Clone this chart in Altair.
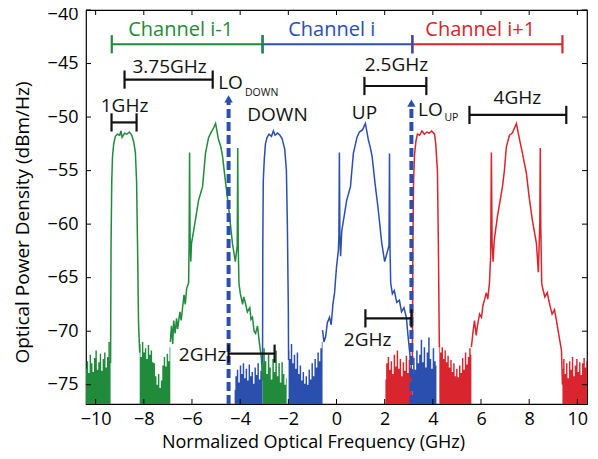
import altair as alt
import pandas as pd
import numpy as np

GREEN = "#1f8b3b"
BLUE = "#2b4fae"
RED = "#d9252d"
BLACK = "#111111"
FONT = "Open Sans"

W, H = 501, 394
XDOM = [-10.4, 10.4]
YDOM = [-76.8, -40]

x_ticks = [-10, -8, -6, -4, -2, 0, 2, 4, 6, 8, 10]
y_ticks = [-75, -70, -65, -60, -55, -50, -45, -40]

# ---- main spectral traces ----
green_x = [-9.38, -9.36, -9.33, -9.30, -9.25, -9.18, -9.10, -9.00, -8.95, -8.90, -8.80, -8.70, -8.60, -8.50,
           -8.42, -8.35, -8.30, -8.26, -8.22, -8.17]
green_y = [-73.0, -62.0, -56.0, -53.7, -52.5, -51.8, -51.6, -51.7, -51.3, -51.9, -51.5, -51.6, -51.4, -51.7,
           -52.3, -53.3, -56.0, -62.0, -69.2, -72.0]
green2_x = [-6.90, -6.85, -6.80, -6.76, -6.70, -6.64, -6.60, -6.50, -6.45, -6.40, -6.33, -6.28, -6.22, -6.14,
            -6.12, -6.10, -6.08, -6.05, -6.02, -5.93, -5.80, -5.73, -5.56, -5.44, -5.31, -5.20, -5.10, -5.02,
            -4.90, -4.80, -4.73, -4.60, -4.48, -4.32, -4.20, -4.12, -4.10, -4.08, -4.05, -4.00, -3.90, -3.85,
            -3.80, -3.70, -3.60, -3.55, -3.49, -3.42, -3.36, -3.28, -3.20, -3.12, -3.07]
green2_y = [-71.0, -69.5, -71.2, -69.0, -70.2, -68.8, -69.8, -68.2, -69.0, -68.0, -66.6, -67.5, -66.0, -65.5,
            -62.0, -53.3, -61.0, -63.5, -61.8, -60.6, -58.8, -57.8, -56.5, -53.4, -51.9, -51.4, -51.0, -50.6,
            -52.1, -52.8, -53.7, -56.2, -58.4, -61.8, -63.5, -62.0, -52.9, -62.0, -65.5, -66.4, -67.5, -66.8,
            -67.2, -68.2, -67.8, -68.9, -68.7, -70.0, -70.2, -69.5, -71.1, -72.5, -74.6]

blue_x = [-3.07, -3.06, -3.04, -3.00, -2.95, -2.88, -2.80, -2.70, -2.62, -2.55, -2.45, -2.35, -2.26, -2.15,
          -2.08, -2.04, -2.00, -1.99]
blue_y = [-73.0, -62.0, -56.0, -54.0, -52.5, -51.9, -51.6, -51.8, -51.3, -51.7, -51.5, -51.7, -52.0, -53.0,
          -55.0, -60.0, -68.0, -72.7]
blue2_x = [-0.58, -0.52, -0.45, -0.38, -0.29, -0.22, -0.15, -0.08, 0.00, 0.08, 0.10, 0.12, 0.14, 0.17, 0.22,
           0.35, 0.42, 0.58, 0.70, 0.85, 0.95, 1.08, 1.20, 1.32, 1.40, 1.48, 1.60, 1.72, 1.88, 2.00, 2.18,
           2.20, 2.22, 2.25, 2.32, 2.40, 2.50, 2.61, 2.70, 2.80, 2.90, 2.96, 3.03, 3.10, 3.15]
blue2_y = [-69.9, -71.0, -70.5, -69.2, -68.7, -69.4, -67.5, -66.4, -64.0, -62.4, -61.0, -53.3, -61.0, -63.0,
           -60.6, -58.8, -57.8, -56.5, -53.4, -51.9, -51.4, -51.2, -50.6, -52.1, -52.8, -53.7, -56.2, -58.4,
           -61.8, -63.5, -62.0, -53.4, -62.0, -65.5, -66.5, -66.2, -67.3, -67.1, -68.2, -67.8, -68.7, -70.2,
           -71.8, -73.2, -74.9]

red_x = [3.15, 3.17, 3.20, 3.24, 3.30, 3.36, 3.45, 3.55, 3.65, 3.75, 3.85, 3.95, 4.07, 4.12, 4.19, 4.23, 4.27]
red_y = [-73.0, -62.0, -56.0, -53.5, -52.2, -51.6, -51.7, -51.3, -51.6, -51.4, -51.5, -51.3, -51.6, -52.5,
         -55.0, -62.0, -71.5]
red2_x = [5.60, 5.66, 5.73, 5.80, 5.85, 5.94, 6.02, 6.08, 6.14, 6.22, 6.28, 6.35, 6.40, 6.43, 6.46, 6.50,
          6.55, 6.68, 6.89, 6.97, 7.05, 7.18, 7.30, 7.47, 7.60, 7.72, 7.88, 8.00, 8.13, 8.30, 8.38, 8.44,
          8.46, 8.48, 8.52, 8.55, 8.65, 8.75, 8.84, 8.95, 9.05, 9.13, 9.22, 9.34, 9.38]
red2_y = [-71.5, -70.2, -69.0, -70.4, -69.5, -68.4, -68.7, -67.6, -67.1, -66.4, -67.0, -65.5, -63.0, -53.3,
          -61.8, -63.5, -61.5, -59.3, -56.5, -55.0, -52.8, -51.7, -51.5, -50.6, -52.1, -53.4, -55.2, -57.5,
          -59.6, -61.8, -64.5, -60.0, -52.9, -60.0, -65.5, -65.9, -66.8, -66.4, -67.4, -68.4, -68.0, -69.0,
          -70.2, -71.8, -75.0]

# ---- noise floor segments: (start, end, tops) ----
noise_g1 = (-10.40, -9.38, [-73.5, -72.8, -73.9, -72.2, -73.0, -73.8, -72.5, -71.8, -73.6, -72.9, -72.1,
                             -73.7, -72.6, -72.0, -73.4, -72.4, -71.0, -72.8])
noise_g2 = (-8.17, -6.90, [-71.2, -72.4, -71.0, -72.0, -71.6, -72.6, -71.3, -72.2, -71.8, -72.9, -73.0,
                           -74.2, -75.0, -74.0, -75.3, -74.6, -73.2, -72.4, -73.3, -72.1, -72.8, -71.5])
noise_g3 = (-3.07, -2.07, [-73.0, -71.6, -72.8, -74.0, -72.2, -73.4, -74.5, -72.6, -73.8, -71.8, -74.2,
                           -73.0, -74.8, -72.9, -74.0, -75.0, -74.4])
noise_b1 = (-4.23, -3.07, [-75.5, -74.2, -73.6, -74.8, -73.2, -74.0, -73.0, -74.4, -73.5, -74.6, -73.1,
                           -74.2, -73.8, -74.9, -73.4, -74.1, -73.0, -74.5, -73.7, -72.8])
noise_b2 = (-1.99, -0.58, [-71.8, -72.6, -71.2, -73.0, -72.2, -73.5, -72.0, -74.0, -73.2, -74.6, -73.8,
                           -74.9, -74.2, -75.0, -73.6, -74.5, -73.0, -74.2, -72.6, -73.4, -72.0, -72.8,
                           -71.6, -71.0])
noise_b3 = (3.15, 4.15, [-74.0, -72.5, -73.6, -71.8, -73.0, -72.2, -70.8, -72.9, -71.5, -73.4, -72.0,
                         -70.6, -72.6, -73.5, -71.6, -72.8, -73.2])
noise_r1 = (2.03, 3.15, [-74.5, -73.0, -72.4, -73.6, -72.8, -74.0, -72.2, -73.3, -71.8, -73.5, -72.6,
                         -74.2, -72.9, -73.7, -72.3, -73.9, -72.7, -73.4, -74.0])
noise_r2 = (4.27, 5.60, [-71.2, -72.0, -71.5, -72.6, -71.8, -72.9, -72.3, -73.4, -72.7, -73.8, -73.0,
                         -74.2, -73.5, -74.3, -73.2, -73.9, -72.5, -73.6, -72.0, -73.1, -72.4, -71.6, -72.2])
noise_r3 = (9.38, 10.40, [-73.5, -72.6, -74.0, -73.0, -74.4, -72.8, -73.6, -72.4, -74.2, -73.2, -72.6,
                          -73.8, -72.9, -74.1, -73.0, -72.5, -73.4, -72.8])

# ---- annotations ----
txt_label = ["Channel i-1", "Channel i", "Channel i+1", "3.75GHz", "1GHz", "LO", "DOWN", "DOWN", "UP",
             "2.5GHz", "LO", "UP", "4GHz", "2GHz", "2GHz"]
txt_x = [-6.47, -0.20, 5.97, -6.93, -8.80, -4.40, -3.11, -2.45, 1.16, 2.49, 3.90, 4.77, 7.51, -5.56, 1.29]
txt_y = [-41.9, -41.9, -41.9, -45.3, -49.0, -46.8, -47.75, -49.8, -49.6, -45.1, -49.3, -50.1, -48.2, -72.2,
         -70.8]
txt_col = [GREEN, BLUE, RED, BLACK, BLACK, BLACK, BLACK, BLACK, BLACK, BLACK, BLACK, BLACK, BLACK, BLACK,
           BLACK]
txt_size = [20, 20, 20, 19, 19, 19, 10.5, 19, 19, 19, 19, 10.5, 19, 19, 19]

br_x1 = [-9.33, -3.07, 3.15, -8.80, -9.34, 1.16, 5.52, -4.48, 1.20]
br_x2 = [-3.07, 3.15, 9.38, -5.14, -8.30, 3.73, 9.54, -2.57, 3.11]
br_y = [-43.2, -43.2, -43.2, -46.5, -50.5, -47.1, -49.8, -72.1, -68.8]
br_col = [GREEN, BLUE, RED, BLACK, BLACK, BLACK, BLACK, BLACK, BLACK]

lo_x = [-4.48, 3.11]
lo_top = [-48.3, -48.7]

# ---------------- build tables ----------------
def trace_df(xs, ys, color, seg):
    return pd.DataFrame({"x": xs, "y": ys, "c": color, "seg": seg, "i": range(len(xs))})

lines = pd.concat([
    trace_df(green_x, green_y, GREEN, "g1"), trace_df(green2_x, green2_y, GREEN, "g2"),
    trace_df(blue_x, blue_y, BLUE, "b1"), trace_df(blue2_x, blue2_y, BLUE, "b2"),
    trace_df(red_x, red_y, RED, "r1"), trace_df(red2_x, red2_y, RED, "r2"),
])

def noise_df(seg, color, name):
    a, b, tops = seg
    return pd.DataFrame({"x": np.linspace(a, b, len(tops)), "y": tops, "c": color, "seg": name})

noise = pd.concat([
    noise_df(noise_r1, RED, "nr1"), noise_df(noise_r2, RED, "nr2"), noise_df(noise_r3, RED, "nr3"),
    noise_df(noise_b1, BLUE, "nb1"), noise_df(noise_b2, BLUE, "nb2"), noise_df(noise_b3, BLUE, "nb3"),
    noise_df(noise_g1, GREEN, "ng1"), noise_df(noise_g2, GREEN, "ng2"), noise_df(noise_g3, GREEN, "ng3"),
])

texts = pd.DataFrame({"t": txt_label, "x": txt_x, "y": txt_y, "c": txt_col, "s": txt_size})
brackets = pd.DataFrame({"x1": br_x1, "x2": br_x2, "y": br_y, "c": br_col})
caps = pd.DataFrame({
    "x": br_x1 + br_x2,
    "y1": [v - 0.85 for v in br_y] * 2,
    "y2": [v + 0.85 for v in br_y] * 2,
    "c": br_col * 2,
})
lo = pd.DataFrame({"x": lo_x, "top": lo_top, "bot": [YDOM[0]] * 2})

xs = alt.Scale(domain=XDOM, nice=False, zero=False)
ys = alt.Scale(domain=YDOM, nice=False, zero=False)

X = lambda f: alt.X(f, type="quantitative", scale=xs, title="Normalized Optical Frequency (GHz)",
                    axis=alt.Axis(values=x_ticks, ticks=False, domain=False, grid=False, labelPadding=6,
                                  titleX=227, titleY=38, titleAlign="center", titleBaseline="middle",
                                  titleAnchor="start", titleFontSize=18))
Y = lambda f: alt.Y(f, type="quantitative", scale=ys, title="Optical Power Density (dBm/Hz)",
                    axis=alt.Axis(values=y_ticks, ticks=False, domain=False, grid=False, labelPadding=8,
                                  labelOffset={"condition": {"test": "datum.value == -40", "value": 4},
                                               "value": 0},
                                  titleX=-64, titleY=212, titleAngle=-90, titleAlign="center",
                                  titleBaseline="middle", titleAnchor="start"), stack=None)

noise_layer = alt.Chart(noise).mark_area(interpolate="step", clip=True, opacity=1).encode(
    x=X("x"), y=Y("y"), color=alt.Color("c:N", scale=None), detail="seg:N")

line_layer = alt.Chart(lines).mark_line(strokeWidth=1.5, clip=True).encode(
    x=X("x"), y=Y("y"), color=alt.Color("c:N", scale=None), detail="seg:N", order="i:Q")

lo_layer = alt.Chart(lo).mark_rule(color=BLUE, strokeWidth=4, strokeDash=[9, 4]).encode(
    x=X("x"), y=Y("bot"), y2="top")
lo_head = alt.Chart(lo).mark_point(shape="triangle-up", filled=True, color=BLUE, size=70, opacity=1).encode(
    x=X("x"), y=Y("top"))

br_layer = alt.Chart(brackets).mark_rule(strokeWidth=2.2).encode(
    x=X("x1"), x2="x2", y=Y("y"), color=alt.Color("c:N", scale=None))
cap_layer = alt.Chart(caps).mark_rule(strokeWidth=2.2).encode(
    x=X("x"), y=Y("y1"), y2="y2", color=alt.Color("c:N", scale=None))

text_layer = alt.Chart(texts).mark_text(font=FONT, baseline="middle", align="center").encode(
    x=X("x"), y=Y("y"), text="t:N", color=alt.Color("c:N", scale=None), size=alt.Size("s:Q", scale=None))

tick_df = pd.DataFrame({"v": x_ticks})
ytick_df = pd.DataFrame({"v": y_ticks})
xt_bot = alt.Chart(tick_df).mark_rule(color="black").encode(x=X("v"), y=alt.value(H), y2=alt.value(H - 5))
xt_top = alt.Chart(tick_df).mark_rule(color="black").encode(x=X("v"), y=alt.value(0), y2=alt.value(5))
yt_l = alt.Chart(ytick_df).mark_rule(color="black").encode(y=Y("v"), x=alt.value(0), x2=alt.value(5))
yt_r = alt.Chart(ytick_df).mark_rule(color="black").encode(y=Y("v"), x=alt.value(W), x2=alt.value(W - 5))

chart = alt.layer(
    noise_layer, line_layer, lo_layer, lo_head, br_layer, cap_layer, text_layer,
    xt_bot, xt_top, yt_l, yt_r,
).properties(
    width=W, height=H,
    autosize=alt.AutoSizeParams(type="none"),
    padding={"left": 78, "top": 2, "right": 3, "bottom": 47},
).configure_view(
    stroke="black", strokeWidth=1.2
).configure_axis(
    labelFont=FONT, labelFontSize=18, labelColor="black",
    titleFont=FONT, titleFontSize=19, titleFontWeight="normal", titleColor="black",
)

chart.save("out.html", embed_options={"renderer": "svg", "actions": False})
